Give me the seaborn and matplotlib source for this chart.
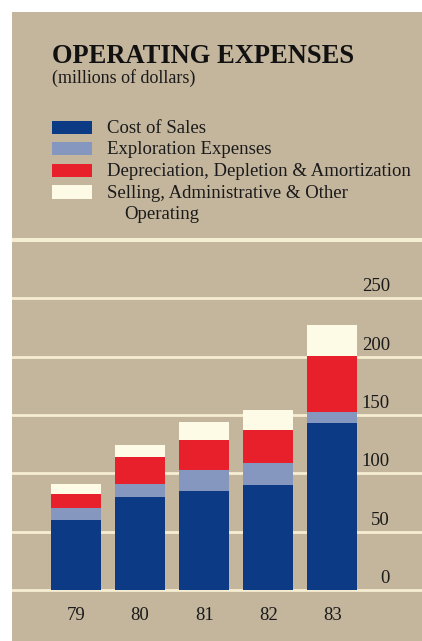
import numpy as np
import pandas as pd
import matplotlib
matplotlib.use("Agg")
import matplotlib.pyplot as plt
from matplotlib.patches import Rectangle
import seaborn as sns

# ---- data (millions of dollars) ----
years = ["79", "80", "81", "82", "83"]
cost_of_sales = [60, 80, 85, 90, 143]
exploration = [10, 11, 17.5, 18.5, 9.5]
depreciation = [12, 23, 26, 28.5, 48]
selling_admin = [8.5, 10.5, 15.5, 17, 26.5]

series_labels = [
    "Cost of Sales",
    "Exploration Expenses",
    "Depreciation, Depletion & Amortization",
    "Selling, Administrative & Other",
]
series_label_cont = "Operating"
y_ticks = [0, 50, 100, 150, 200, 250]

title = "OPERATING EXPENSES"
subtitle = "(millions of dollars)"

# ---- styling ----
NAVY = "#0d3a84"
STEEL = "#8597be"
RED = "#e8202b"
CREAM = "#fdfbe6"
TAN = "#c4b59d"
LINE = "#f6eed2"
colors = [NAVY, STEEL, RED, CREAM]
TEXT = "#1a1a1a"
FS = 13.5

sns.set_theme(style="white")
plt.rcParams["font.family"] = ["Liberation Serif", "DejaVu Serif"]

W, H = 422, 641
fig = plt.figure(figsize=(W / 100, H / 100), dpi=100, facecolor="white")


def fx(px):
    return px / W


def fy(py):
    return 1 - py / H


# tan panel with cream divider between header and chart
fig.add_artist(Rectangle((fx(12), 0), fx(410), fy(12), transform=fig.transFigure,
                         facecolor=TAN, edgecolor="none", zorder=0))
fig.add_artist(Rectangle((fx(12), fy(241.5)), fx(410), 3.5 / H, transform=fig.transFigure,
                         facecolor=LINE, edgecolor="none", zorder=1))

# header
fig.text(fx(52), fy(63), title, fontsize=19.1, fontweight="bold", color="#111111",
         ha="left", va="baseline")
fig.text(fx(52), fy(83), subtitle, fontsize=13, color=TEXT,
         ha="left", va="baseline")

# legend
baselines = [133, 154.5, 176, 197.5]
for lab, col, bl in zip(series_labels, colors, baselines):
    fig.add_artist(Rectangle((fx(52), fy(bl + 1)), fx(40), 13.5 / H,
                             transform=fig.transFigure, facecolor=col,
                             edgecolor="none", zorder=2))
    fig.text(fx(107), fy(bl), lab, fontsize=FS, color=TEXT,
             ha="left", va="baseline")
fig.text(fx(124), fy(219.5), series_label_cont, fontsize=FS, color=TEXT,
         ha="left", va="baseline")

# chart axes: value 0 sits at y=590px, 50 units per 58.33px
ax = fig.add_axes([fx(12), 0, fx(410), (H - 243.5) / H])
ax.set_facecolor(TAN)
px_per_unit = 58.33 / 50
px_per_cat = 64.1

for v in y_ticks:
    ax.axhline(v, color=LINE, lw=2.0, zorder=0)

df = pd.DataFrame({
    "year": years,
    "cost": cost_of_sales,
    "expl": exploration,
    "dda": depreciation,
    "sga": selling_admin,
})
stack = np.cumsum(df[["cost", "expl", "dda", "sga"]].to_numpy(), axis=1)

# draw cumulative layers from tallest to shortest so each sits on the one below
for i in range(3, -1, -1):
    sns.barplot(x=df["year"], y=stack[:, i], color=colors[i], width=50 / px_per_cat,
                saturation=1, edgecolor="none", linewidth=0, ax=ax, zorder=2)

ax.set_xlim((12 - 76) / px_per_cat, (422 - 76) / px_per_cat)
ax.set_ylim(-(641 - 590) / px_per_unit, (590 - 243.5) / px_per_unit)

# value labels at right, sitting just above each gridline
for v in y_ticks:
    ax.text((390 - 76) / px_per_cat, v + 7 / px_per_unit, str(v), fontsize=FS,
            color=TEXT, ha="right", va="baseline", zorder=3)

# year labels under bars
for i, yr in enumerate(years):
    ax.text(i, -(620 - 590) / px_per_unit, yr, fontsize=FS, color=TEXT,
            ha="center", va="baseline", zorder=3)

ax.set_xticks([])
ax.set_yticks([])
ax.set_xlabel("")
ax.set_ylabel("")
for s in ax.spines.values():
    s.set_visible(False)

fig.savefig("out.png", dpi=100, facecolor="white")
